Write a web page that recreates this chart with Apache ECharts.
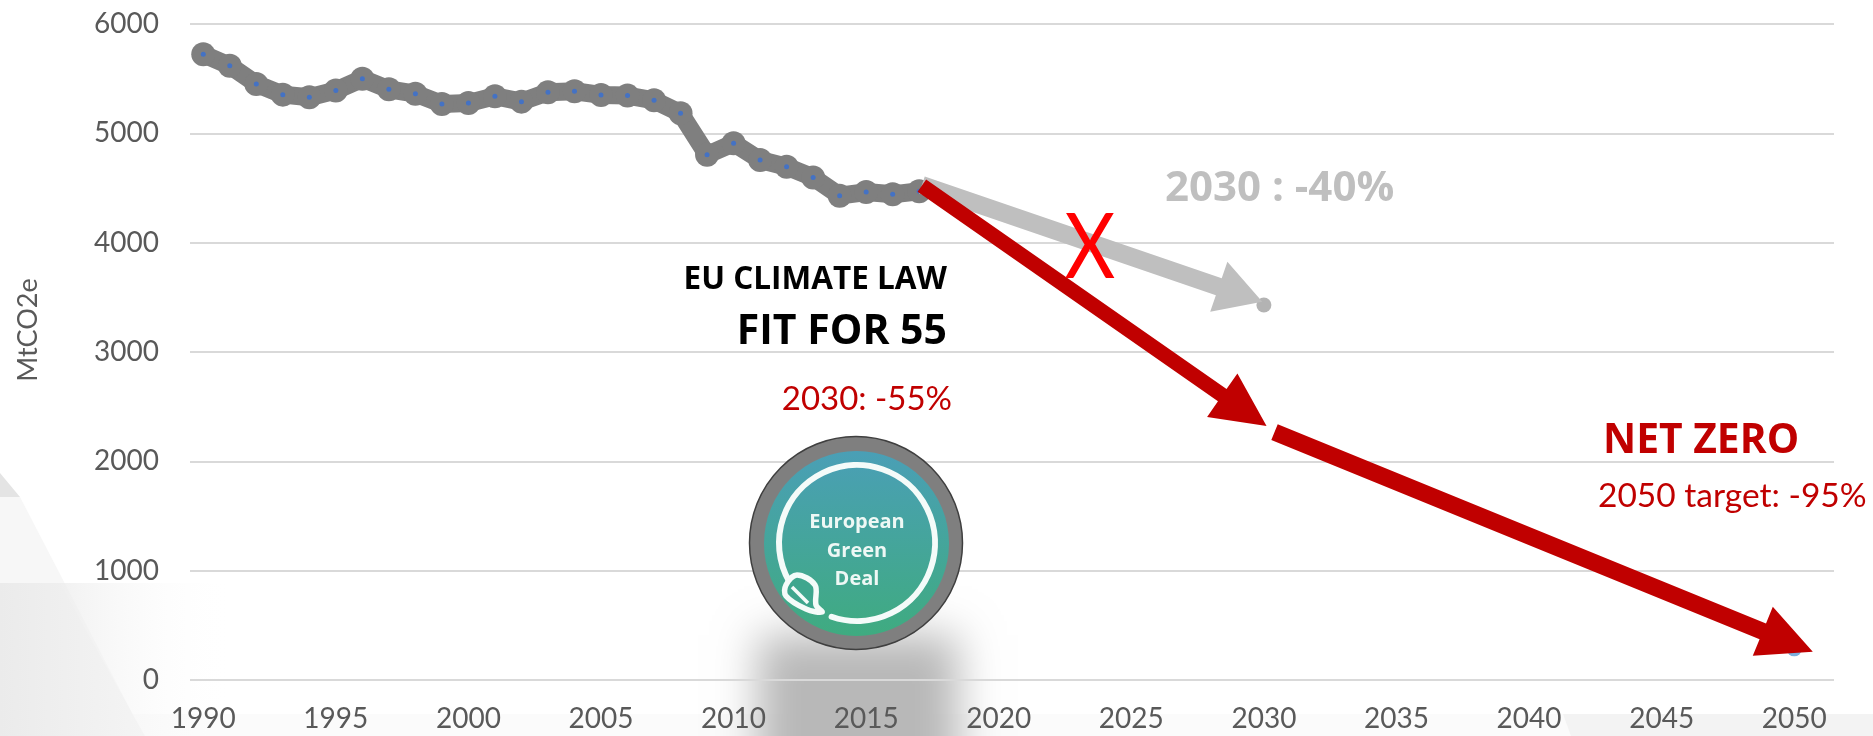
<!DOCTYPE html>
<html>
<head>
<meta charset="utf-8">
<title>EU emissions pathway</title>
<script src="https://cdn.jsdelivr.net/npm/echarts@6/dist/echarts.min.js"></script>
<style>html,body{margin:0;padding:0;background:#fff}#c{width:1873px;height:736px}</style>
</head>
<body>
<div id="c"></div>
<script>
const years = [1990,1991,1992,1993,1994,1995,1996,1997,1998,1999,2000,2001,2002,2003,2004,2005,2006,2007,2008,2009,2010,2011,2012,2013,2014,2015,2016,2017];
const emissions = [5723,5619,5452,5354,5330,5391,5500,5403,5363,5269,5278,5339,5290,5376,5385,5351,5345,5302,5184,4803,4910,4756,4695,4597,4430,4463,4442,4470];
const tickYears = [1990,1995,2000,2005,2010,2015,2020,2025,2030,2035,2040,2045,2050];
const target2030Old = [[2030,3430]];
const target2050 = [[2050,285]];
const arrowOld = [2017.1,4527,2029.94,3460];
const arrowNew = [2017.1,4521,2030.1,2323];
const arrowZero = [2030.4,2268,2050.7,259];

const FONT = 'Lato, "Open Sans", sans-serif';
const BOLD = '"Open Sans", Lato, sans-serif';
const RED = '#C00000';
const AXIS = '#595959';

const pairs = years.map((y,i)=>[y,emissions[i]]);

function arrowSeries(row, fill, shaft, headW, headL, z){
  return {
    type:'custom', coordinateSystem:'cartesian2d', clip:false, z, silent:true,
    data:[row], encode:{x:[0,2],y:[1,3]},
    renderItem(params, api){
      const a = api.coord([api.value(0),api.value(1)]);
      const b = api.coord([api.value(2),api.value(3)]);
      const dx=b[0]-a[0], dy=b[1]-a[1], L=Math.hypot(dx,dy), ux=dx/L, uy=dy/L, nx=-uy, ny=ux;
      const neck=[b[0]-ux*headL,b[1]-uy*headL];
      const pt=(p,s)=>[p[0]+nx*s,p[1]+ny*s];
      return {type:'polygon',shape:{points:[pt(a,shaft/2),pt(neck,shaft/2),pt(neck,headW/2),b,pt(neck,-headW/2),pt(neck,-shaft/2),pt(a,-shaft/2)]},style:{fill}};
    }
  };
}
function txt(text,x,y,size,fill,weight,align){
  const fam = weight==='bold' ? BOLD : FONT;
  return {type:'text',z:50,silent:true,x,y,style:{text,fill,font:(weight||'normal')+' '+size+'px '+fam,textAlign:align||'right',textVerticalAlign:'middle'}};
}
const grad=(x,y,x2,y2,c0,c1)=>({type:'linear',x,y,x2,y2,colorStops:[{offset:0,color:c0},{offset:1,color:c1}]});

const background = [
  {type:'polygon',z:-10,silent:true,shape:{points:[[0,473],[20,497],[0,497]]},style:{fill:'#e4e4e4'}},
  {type:'polygon',z:-10,silent:true,shape:{points:[[0,497],[20,497],[132,713],[0,713]]},style:{fill:'#f7f7f7'}},
  {type:'rect',z:-9,silent:true,shape:{x:0,y:583,width:235,height:153},style:{fill:grad(0,0,1,0,'#e6e6e6','rgba(255,255,255,0)')}},
  {type:'polygon',z:-9,silent:true,shape:{points:[[0,583],[60,583],[132,713],[145,736],[0,736]]},style:{fill:grad(0,0,1,0,'#ebebeb','#f4f4f4')}},
  {type:'rect',z:-10,silent:true,shape:{x:130,y:714,width:1743,height:22},style:{fill:'#fbfbfb'}},
  {type:'polygon',z:-9,silent:true,shape:{points:[[1563,714],[1873,714],[1873,736],[1571,736]]},style:{fill:'#f3f3f3'}},
  {type:'rect',z:-8,silent:true,shape:{x:758-3000,y:635,width:200,height:170},style:{fill:'#bcbcbc',shadowBlur:40,shadowColor:'#b8b8b8',shadowOffsetX:3000}}
];
const logo = [
  {type:'circle',z:40,silent:true,shape:{cx:856,cy:543,r:106.5},style:{fill:'#7f7f7f',stroke:'#3f3f3f',lineWidth:1.5}},
  {type:'circle',z:41,silent:true,shape:{cx:856.5,cy:543.5,r:92.5},style:{fill:grad(0,0,0,1,'#4a9fb6','#3fab80')}},
  {type:'arc',z:42,silent:true,shape:{cx:857,cy:543,r:78,startAngle:109*Math.PI/180,endAngle:150*Math.PI/180,clockwise:false},style:{fill:'none',stroke:'#f4fbf9',lineWidth:6,lineCap:'round'}},
  {type:'polygon',z:43,silent:true,shape:{smooth:0.35,points:[[797,575],[815,585],[816,605],[822,612],[806,609],[786,596],[786,585]]},style:{fill:'#3fa68e',stroke:'#f4fbf9',lineWidth:5.5,lineJoin:'round'}},
  {type:'line',z:44,silent:true,shape:{x1:792,y1:587,x2:808,y2:603},style:{stroke:'#f4fbf9',lineWidth:3.5}},
  txt('European',857,522,20,'#eef8f5','bold','center'),
  txt('Green',857,551,20,'#eef8f5','bold','center'),
  txt('Deal',857,579,20,'#eef8f5','bold','center')
];
const xMark = txt('X',1090,248,92,'#FF0000','normal','center');
xMark.scaleX = 0.85;
const notes = [
  txt('EU CLIMATE LAW',947,280,31.5,'#000','bold'),
  txt('FIT FOR 55',947,332,41,'#000','bold'),
  txt('2030: -55%',952,399,33,RED,'normal'),
  txt('2030 : -40%',1165,189,42,'#BFBFBF','bold','left'),
  xMark,
  txt('NET ZERO',1603,441,40.8,RED,'bold','left'),
  txt('2050 target: -95%',1598,496,33.5,RED,'normal','left')
];

const chart = echarts.init(document.getElementById('c'),null,{renderer:'canvas'});
chart.setOption({
  animation:false,
  backgroundColor:'#fff',
  grid:{left:190,right:39,top:24,bottom:56,containLabel:false},
  xAxis:{type:'value',min:1989.5,max:2051.5,splitLine:{show:false},axisLine:{show:false},axisTick:{show:false},
    axisLabel:{customValues:tickYears,formatter:v=>String(v),color:AXIS,fontFamily:FONT,fontSize:28,margin:25}},
  yAxis:{type:'value',min:0,max:6000,interval:1000,
    name:'MtCO2e',nameLocation:'middle',nameRotate:90,nameGap:148,
    nameTextStyle:{color:AXIS,fontFamily:FONT,fontSize:27,padding:[0,0,0,44]},
    axisLine:{show:false},axisTick:{show:false},
    splitLine:{lineStyle:{color:'#d9d9d9',width:2}},
    axisLabel:{formatter:v=>String(v),color:AXIS,fontFamily:FONT,fontSize:28,margin:31}},
  graphic:[...background,...logo,...notes],
  series:[
    {name:'Emissions',type:'line',data:pairs,z:5,silent:true,lineStyle:{color:'#7f7f7f',width:18,join:'round'},
      symbol:'circle',symbolSize:24,itemStyle:{color:'#7f7f7f'}},
    {name:'Emissions markers',type:'line',data:pairs,z:6,silent:true,lineStyle:{width:0},
      symbol:'circle',symbolSize:5,itemStyle:{color:'#4472C4'}},
    {name:'2030 old target',type:'scatter',data:target2030Old,z:6,silent:true,symbolSize:15,itemStyle:{color:'#A0A0A0'}},
    {name:'2050 target',type:'scatter',data:target2050,z:6,silent:true,symbolSize:15,itemStyle:{color:'#5B9BD5'}},
    arrowSeries(arrowOld,'#BFBFBF',18,53,46,7),
    arrowSeries(arrowNew,RED,15,53,54,8),
    arrowSeries(arrowZero,RED,17,53,54,8)
  ]
});
</script>
</body>
</html>
